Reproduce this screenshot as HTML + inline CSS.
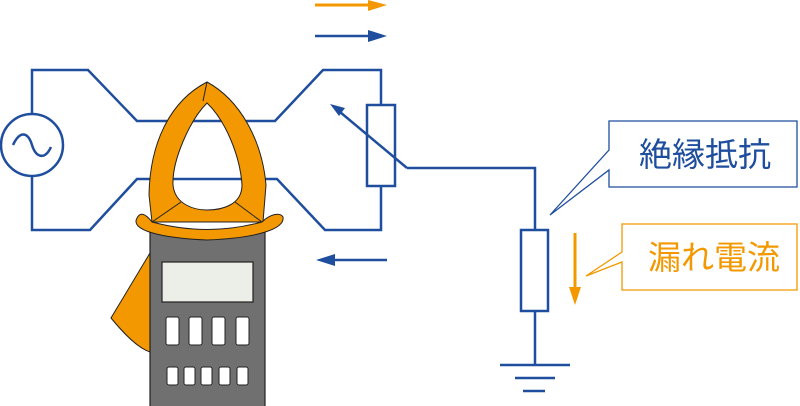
<!DOCTYPE html><html><head><style>body{margin:0;background:#fff}svg{display:block}</style></head><body>
<svg width="800" height="406" viewBox="0 0 800 406" xmlns="http://www.w3.org/2000/svg">
<g fill="none" stroke="#1f4e9e" stroke-width="2.5">
<path d="M32,115 V70 H88 L137,121 H275 L323,70 H381 V105"/>
<path d="M381,186 V230 H325 L277,179 H137 L90,230 H32 V176"/>
<circle cx="32" cy="145" r="31"/>
<path d="M13,145 C20,130 28,132 32,145 C36,158 45,160 51,147"/>
<rect x="367" y="105" width="28" height="81"/>
<path d="M407,168 L340,112"/>
<path d="M407,168 H535 V230"/>
<rect x="521" y="230" width="27" height="81"/>
<path d="M535,311 V365 M500,365 H570 M515,378 H555 M523,391 H545"/>
<path d="M315,36 H372"/><path d="M387,260 H330"/>
</g>
<polygon points="330,104 345,108 339,116" fill="#1f4e9e"/>
<polygon points="387,36 368,30 368,42" fill="#1f4e9e"/>
<polygon points="316,260 335,254 335,266" fill="#1f4e9e"/>
<path d="M315,5 H372" stroke="#f39800" stroke-width="3"/>
<polygon points="387,5 368,0 368,11" fill="#f39800"/>
<path d="M575,233 V290" stroke="#f39800" stroke-width="3"/>
<polygon points="575,305 569,287 581,287" fill="#f39800"/>
<path d="M150,253 L111,318 C125,335 138,348 150,352 Z" fill="#f39800" stroke="#222" stroke-width="1"/>
<rect x="150" y="230" width="115" height="180" fill="#717071" stroke="#222" stroke-width="1.2"/>
<rect x="162" y="262" width="91" height="40" fill="#eceee8" stroke="#222" stroke-width="1.2"/>
<g fill="#fff" stroke="#222" stroke-width="1">
<rect x="166" y="317" width="13" height="28" rx="2"/><rect x="189" y="317" width="13" height="28" rx="2"/><rect x="212" y="317" width="13" height="28" rx="2"/><rect x="236" y="317" width="13" height="28" rx="2"/>
<rect x="167" y="367" width="11" height="18" rx="2"/><rect x="184" y="367" width="11" height="18" rx="2"/><rect x="201" y="367" width="11" height="18" rx="2"/><rect x="219" y="367" width="11" height="18" rx="2"/><rect x="237" y="367" width="11" height="18" rx="2"/>
</g>
<path fill-rule="evenodd" fill="#f39800" stroke="#222" stroke-width="1" d="M207,82 C240,100 262,140 266,185 L263,222 L152,222 L149,195 C150,140 172,100 207,82 Z M207,103 C190,120 172,160 173,185 C175,205 195,210 207,210 C222,210 242,205 242,185 C240,155 225,120 207,103 Z"/>
<path d="M207,82 L203,101 M181,202 L152,222 M235,202 L262,222" stroke="#222" stroke-width="1" fill="none"/>
<path d="M137,218 C140,212 145,213 152,222 C190,232 225,232 262,222 C270,214 280,212 283,217 C285,228 260,238 207,240 C160,238 130,230 137,218 Z" fill="#f39800" stroke="#222" stroke-width="1"/>
<path d="M609,121 H797 V187 H609 V170 L550,215 L609,150 Z" fill="#fff" stroke="#1f4e9e" stroke-width="1.3"/>
<text x="705" y="166" text-anchor="middle" font-family="Liberation Sans,'Noto Sans CJK JP',sans-serif" font-size="33" fill="#1f4e9e">絶縁抵抗</text>
<path d="M622,224 H797 V290 H622 V262 L586,276 L622,252 Z" fill="#fff" stroke="#f39800" stroke-width="1.3"/>
<text x="714" y="269" text-anchor="middle" font-family="Liberation Sans,'Noto Sans CJK JP',sans-serif" font-size="33" fill="#f39800">漏れ電流</text>
</svg>
</body></html>
